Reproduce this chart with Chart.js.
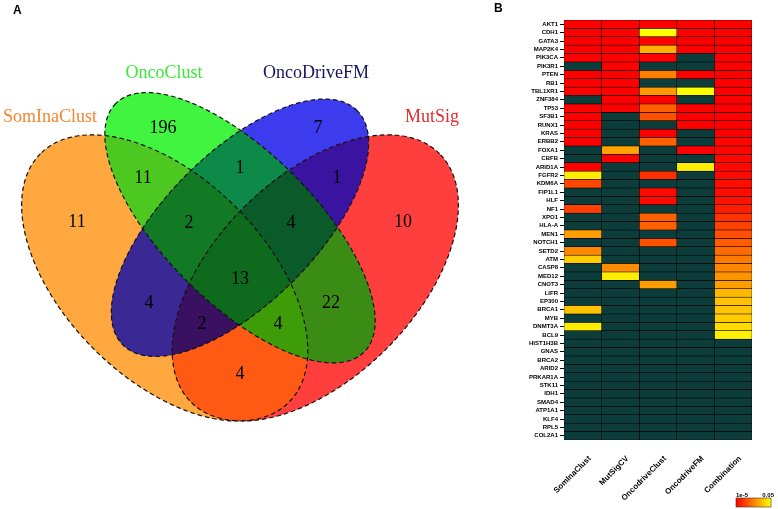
<!DOCTYPE html>
<html><head><meta charset="utf-8">
<script src="https://cdn.jsdelivr.net/npm/chart.js@4/dist/chart.umd.min.js"></script>
<style>
html,body{margin:0;padding:0;background:#fff;width:778px;height:509px;overflow:hidden}
#vennWrap{position:absolute;left:0;top:0;width:520px;height:509px}
#heatWrap{position:absolute;left:520px;top:0;width:258px;height:509px}
.panel{position:absolute;font:bold 12px "Liberation Sans",Arial,sans-serif;color:#000;line-height:12px}
</style></head><body>
<div id="vennWrap"><canvas id="venn"></canvas></div>
<div id="heatWrap"><canvas id="heat"></canvas></div>
<div class="panel" style="left:13px;top:4px">A</div>
<div class="panel" style="left:494px;top:2px">B</div>
<script>
// ---------------- DATA ----------------
// Venn (A)
const setNames = ['SomInaClust', 'OncoClust', 'OncoDriveFM', 'MutSig'];
// region membership bitmask: 1=SomInaClust 2=OncoClust 4=OncoDriveFM 8=MutSig
const regionMasks  = [2, 4, 1, 8, 3, 6, 12, 7, 14, 5, 15, 10, 13, 11, 9];
const regionCounts = [196, 7, 11, 10, 11, 1, 1, 2, 4, 4, 13, 22, 2, 4, 4];

// Heatmap (B)
const genes = ['AKT1','CDH1','GATA3','MAP2K4','PIK3CA','PIK3R1','PTEN','RB1','TBL1XR1','ZNF384',
  'TP53','SF3B1','RUNX1','KRAS','ERBB2','FOXA1','CBFB','ARID1A','FGFR2','KDM6A',
  'FIP1L1','HLF','NF1','XPO1','HLA-A','MEN1','NOTCH1','SETD2','ATM','CASP8',
  'MED12','CNOT3','LIFR','EP300','BRCA1','MYB','DNMT3A','BCL9','HIST1H3B','GNAS',
  'BRCA2','ARID2','PRKAR1A','STK11','IDH1','SMAD4','ATP1A1','KLF4','RPL5','COL2A1'];
const methods = ['SomInaClust','MutSigCV','OncodriveClust','OncodriveFM','Combination'];
const n = null;
// colour level on the 1e-5 (0) .. 0.05 (1) scale; null = not significant
const somInaClust = [0,0,0,0,0,n,0,0,0,n, 0,0,0,0,0,n,n,0,0.93,0.28, n,n,0.25,n,n,0.62,n,0.53,0.8,n, n,n,n,n,0.77,n,0.93,n,n,n, n,n,n,n,n,n,n,n,n,n];
const mutSigCV    = [0,0,0,0,0,0,0,0,0,0, 0,n,n,n,n,0.63,0,n,n,n, n,n,n,n,n,n,n,n,n,0.55, 0.93,n,n,n,n,n,n,n,n,n, n,n,n,n,n,n,n,n,n,n];
const oncodriveClust = [0,1.0,0,0.69,0,n,0.5,n,0.6,0, 0.38,0.31,n,0,0.38,n,n,n,0.19,n, 0.04,0.04,n,0.38,0.38,n,0.32,n,n,n, n,0.61,n,n,n,n,n,n,n,n, n,n,n,n,n,n,n,n,n,n];
const oncodriveFM = [0,0,0,0,n,n,0,n,1.0,n, 0,0,0,n,n,0,n,0.93,n,n, n,n,n,n,n,n,n,n,n,n, n,n,n,n,n,n,n,n,n,n, n,n,n,n,n,n,n,n,n,n];
const combination = [0,0,0,0,0,0,0,0,0,0, 0,0,0,0,0.02,0.02,0.03,0.03,0.04,0.05, 0.05,0.07,0.12,0.2,0.26,0.31,0.36,0.42,0.48,0.53, 0.58,0.62,0.72,0.76,0.77,0.8,0.86,0.94,n,n, n,n,n,n,n,n,n,n,n,n];
const legendTicks = ['1e-5', '0.05'];

// ---------------- LAYOUT / STYLE ----------------
const ellipses = [ // VennDiagram quad geometry (unit square, y up)
  {cx:0.35, cy:0.47, a:0.35, b:0.20, rot:135},
  {cx:0.50, cy:0.57, a:0.35, b:0.15, rot:135},
  {cx:0.50, cy:0.57, a:0.33, b:0.15, rot:45},
  {cx:0.65, cy:0.47, a:0.35, b:0.20, rot:45}
];
const regionAnchors = [[0.3466,0.7687],[0.6554,0.7687],[0.1753,0.5814],[0.8247,0.5814],
  [0.3068,0.6691],[0.5,0.689],[0.6932,0.6691],[0.3984,0.5794],[0.6016,0.5794],
  [0.3187,0.4201],[0.5,0.4679],[0.6813,0.4201],[0.4243,0.3782],[0.5757,0.3782],[0.5,0.2786]];
const setAnchors = [[0.1215,0.7906],[0.3486,0.8782],[0.6514,0.8782],[0.8825,0.7906]];
const setColors = ['#f3862f','#3ae83a','#15155e','#e62a2a'];
const regionFill = {1:'#ffa840',2:'#40f440',4:'#3c3cee',8:'#ff3e3e',
  3:'#4cc820',6:'#0e8a48',12:'#3a14a0',9:'#ff5a14',5:'#3a2894',10:'#3a8c14',
  7:'#127a25',14:'#0b5a2a',13:'#3a1060',11:'#3e9c08',15:'#0e6a1c'};
const DARK = '#0c3d3b';
function levelColor(t){ return t === null ? DARK : 'rgb(255,' + Math.round(255*t) + ',0)'; }

// ---------------- VENN CHART ----------------
const vennPlugin = {
  id: 'vennShapes',
  beforeDatasetsDraw(chart){
    const ctx = chart.ctx, xs = chart.scales.x, ys = chart.scales.y;
    const path = (e) => {
      const r = e.rot*Math.PI/180, c = Math.cos(r), s = Math.sin(r);
      ctx.beginPath();
      for (let k = 0; k <= 240; k++){
        const t = 2*Math.PI*k/240;
        const ux = e.cx + e.a*c*Math.cos(t) - e.b*s*Math.sin(t);
        const uy = e.cy + e.a*s*Math.cos(t) + e.b*c*Math.sin(t);
        const px = xs.getPixelForValue(ux), py = ys.getPixelForValue(uy);
        if (k === 0) ctx.moveTo(px, py); else ctx.lineTo(px, py);
      }
      ctx.closePath();
    };
    const pop = m => (m&1)+((m>>1)&1)+((m>>2)&1)+((m>>3)&1);
    const masks = Array.from({length:15},(_,i)=>i+1).sort((a,b)=>pop(a)-pop(b));
    for (const m of masks){
      ctx.save();
      for (let i = 0; i < 4; i++) if (m & (1<<i)) { path(ellipses[i]); ctx.clip(); }
      ctx.fillStyle = regionFill[m];
      ctx.fillRect(0, 0, chart.width, chart.height);
      ctx.restore();
    }
    ctx.save();
    ctx.setLineDash([4.5, 3]);
    ctx.lineWidth = 1.2;
    ctx.strokeStyle = '#111';
    for (const e of ellipses){ path(e); ctx.stroke(); }
    ctx.restore();
  },
  afterDatasetsDraw(chart){
    const ctx = chart.ctx;
    ctx.save();
    ctx.textAlign = 'center'; ctx.textBaseline = 'middle';
    ctx.font = '18px "Liberation Serif","Times New Roman",serif';
    const m0 = chart.getDatasetMeta(0), m1 = chart.getDatasetMeta(1);
    m0.data.forEach((pt, i) => { ctx.fillStyle = '#000'; ctx.fillText(String(regionCounts[i]), pt.x, pt.y); });
    m1.data.forEach((pt, i) => { ctx.fillStyle = setColors[i]; ctx.fillText(setNames[i], pt.x, pt.y); });
    ctx.restore();
  }
};
new Chart(document.getElementById('venn'), {
  type: 'scatter',
  data: { datasets: [
    { label: 'regions', data: regionAnchors.map(([x,y]) => ({x, y})), pointRadius: 0 },
    { label: 'sets', data: setAnchors.map(([x,y]) => ({x, y})), pointRadius: 0 }
  ]},
  options: {
    responsive: true, maintainAspectRatio: false, animation: false,
    layout: { padding: 0 },
    plugins: { legend: {display:false}, tooltip: {enabled:false} },
    events: [],
    scales: {
      x: { type:'linear', min: 0.5-240/502, max: 0.5+280/502, display:false },
      y: { type:'linear', min: 0.185-88/502, max: 0.185+421/502, display:false }
    }
  },
  plugins: [vennPlugin]
});

// ---------------- HEATMAP CHART ----------------
const columns = [somInaClust, mutSigCV, oncodriveClust, oncodriveFM, combination];
const legendPlugin = {
  id: 'pLegend',
  afterDraw(chart){
    const ctx = chart.ctx;
    const x0 = 216, x1 = 251, y0 = 498, y1 = 507;
    const g = ctx.createLinearGradient(x0, 0, x1, 0);
    g.addColorStop(0, '#ff0000'); g.addColorStop(0.5, '#ff8000'); g.addColorStop(1, '#ffff00');
    ctx.save();
    ctx.fillStyle = g; ctx.fillRect(x0, y0, x1-x0, y1-y0);
    ctx.strokeStyle = '#333'; ctx.lineWidth = 0.6; ctx.strokeRect(x0, y0, x1-x0, y1-y0);
    ctx.fillStyle = '#000';
    ctx.font = 'bold 6px "Liberation Sans",Arial,sans-serif';
    ctx.textBaseline = 'alphabetic';
    ctx.textAlign = 'left'; ctx.fillText(legendTicks[0], x0, y0-1.5);
    ctx.textAlign = 'right'; ctx.fillText(legendTicks[1], x1+3, y0-1.5);
    ctx.restore();
  }
};
new Chart(document.getElementById('heat'), {
  type: 'bar',
  data: {
    labels: genes,
    datasets: methods.map((m, j) => ({
      label: m,
      data: genes.map(() => [j, j+1]),
      backgroundColor: columns[j].map(levelColor),
      borderColor: '#000', borderWidth: 0.6, borderSkipped: false,
      barPercentage: 1, categoryPercentage: 1, grouped: false
    }))
  },
  options: {
    indexAxis: 'y',
    responsive: true, maintainAspectRatio: false, animation: false,
    events: [],
    layout: { padding: { top: 20, right: 26, left: 0, bottom: 0 } },
    plugins: { legend: {display:false}, tooltip: {enabled:false} },
    scales: {
      y: {
        type: 'category',
        grid: { offset: false, drawOnChartArea: false, tickLength: 4, color: '#000', lineWidth: 1 },
        border: { display: false },
        ticks: { autoSkip: false, color: '#000', padding: 2,
          font: { size: 6, weight: 'bold', family: '"Liberation Sans",Arial,sans-serif' } },
        afterFit(s){ s.width = 44; }
      },
      x: {
        type: 'linear', min: 0, max: 5,
        afterBuildTicks(s){ s.ticks = methods.map((m, i) => ({ value: i + 0.5 })); },
        grid: { display: false }, border: { display: false },
        ticks: { autoSkip: false, maxRotation: 45, minRotation: 45, color: '#000', padding: 6, labelOffset: 7,
          callback: (v, i) => methods[i],
          font: { size: 8, weight: 'bold', family: '"Liberation Sans",Arial,sans-serif' } },
        afterFit(s){ s.height = 69; }
      }
    }
  },
  plugins: [legendPlugin]
});
</script>
</body></html>
